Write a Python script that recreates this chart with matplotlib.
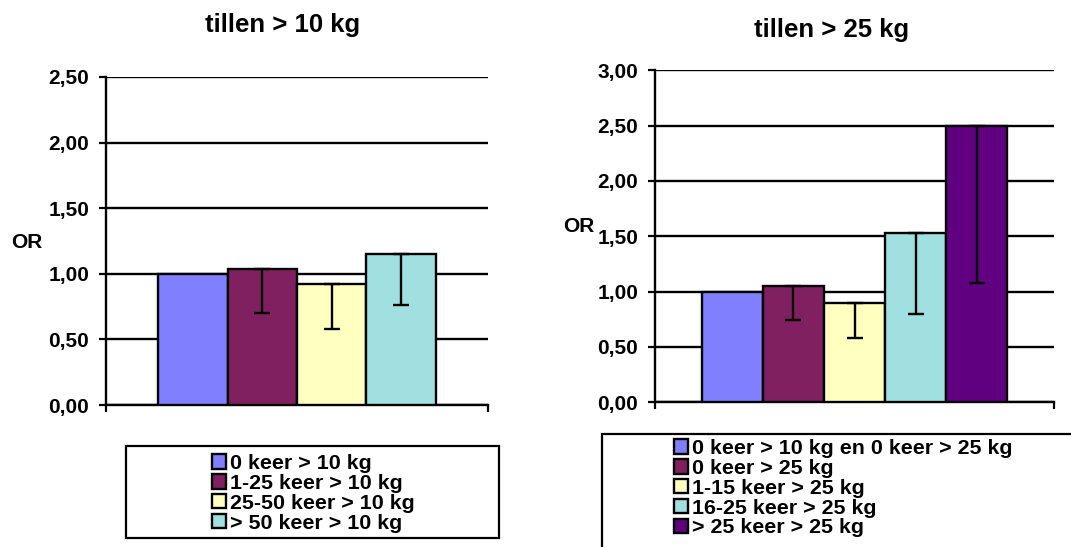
import matplotlib
matplotlib.use("Agg")
import matplotlib.pyplot as plt
from matplotlib.patches import Rectangle
from matplotlib.ticker import FuncFormatter, MultipleLocator

plt.rcParams['font.family'] = ['Liberation Sans', 'DejaVu Sans']
plt.rcParams['font.weight'] = 'bold'

W, H = 1071, 547

# tillen > 10 kg
labels_10 = ['0 keer > 10 kg', '1-25 keer > 10 kg', '25-50 keer > 10 kg', '> 50 keer > 10 kg']
or_10 = [1.00, 1.04, 0.92, 1.15]
low_10 = [None, 0.70, 0.58, 0.76]

# tillen > 25 kg
labels_25 = ['0 keer > 10 kg en 0 keer > 25 kg', '0 keer > 25 kg', '1-15 keer > 25 kg',
             '16-25 keer > 25 kg', '> 25 keer > 25 kg']
or_25 = [1.00, 1.05, 0.90, 1.53, 2.50]
low_25 = [None, 0.74, 0.58, 0.80, 1.08]

colors = ['#8080FF', '#802060', '#FFFFC0', '#A0E0E0', '#600080']


def px(x, y):
    return x / W, 1 - y / H


def comma(v, _):
    return f"{v:.2f}".replace('.', ',')


def draw_panel(fig, rect, values, lows, ymax, gap):
    ax = fig.add_axes(rect)
    n = len(values)
    xs = list(range(n))
    bars = ax.bar(xs, values, width=1.0, color=colors[:n], edgecolor='black',
                  linewidth=1.7, zorder=3)
    for x, v, lo in zip(xs, values, lows):
        if lo is None:
            continue
        ax.errorbar(x, v, yerr=[[v - lo], [0]], fmt='none', ecolor='black',
                    elinewidth=1.7, capsize=5.8, capthick=1.7, zorder=4)

    x0, x1 = -0.5 - gap, n - 0.5 + gap
    ax.set_xlim(x0, x1)
    ax.set_ylim(0, ymax)
    ax.yaxis.set_major_locator(MultipleLocator(0.5))
    ax.yaxis.set_major_formatter(FuncFormatter(comma))
    ax.set_xticks([x0, x1])
    ax.set_xticklabels([])
    ax.tick_params(axis='both', direction='out', length=5, width=1.6, color='black')
    ax.tick_params(axis='y', labelsize=15, pad=7)
    ax.yaxis.grid(True, color='black', linewidth=1.7)
    ax.set_axisbelow('line')
    for s in ['top', 'right']:
        ax.spines[s].set_visible(False)
    for s in ['left', 'bottom']:
        ax.spines[s].set_linewidth(1.7)
        ax.spines[s].set_color('black')
    ax.set_facecolor('none')
    return ax, bars


fig = plt.figure(figsize=(W / 100, H / 100), dpi=100)

# left panel
l, b = px(106, 405)
ax1, bars1 = draw_panel(fig, [l, b, 382 / W, 328 / H], or_10, low_10, 2.5, 0.75)
# right panel
l, b = px(655, 402.3)
ax2, bars2 = draw_panel(fig, [l, b, 399 / W, 332 / H], or_25, low_25, 3.0, 0.76)

# titles and axis labels
fig.text(*px(283, 25), 'tillen > 10 kg', ha='center', va='center', fontsize=18.5, fontweight='bold')
fig.text(*px(832, 30), 'tillen > 25 kg', ha='center', va='center', fontsize=18.5, fontweight='bold')
fig.text(*px(27, 243), 'OR', ha='center', va='center', fontsize=15, fontweight='bold')
fig.text(*px(579, 227), 'OR', ha='center', va='center', fontsize=15, fontweight='bold')

# legend boxes
x, y = px(126, 538)
fig.add_artist(Rectangle((x, y), 373 / W, 92 / H, transform=fig.transFigure,
                         fill=False, edgecolor='black', linewidth=1.6))
x, y = px(602, 570)
fig.add_artist(Rectangle((x, y), 500 / W, 136 / H, transform=fig.transFigure,
                         fill=False, edgecolor='black', linewidth=1.6))

leg_kw = dict(loc='upper left', bbox_transform=fig.transFigure, frameon=False,
              borderpad=0, borderaxespad=0, fontsize=15.4, handlelength=0.66,
              handleheight=0.66, handletextpad=0.2, labelspacing=0.04)
fig.legend(bars1.patches, labels_10, bbox_to_anchor=px(212, 454), **leg_kw)
fig.legend(bars2.patches, labels_25, bbox_to_anchor=px(674, 439), **leg_kw)

fig.savefig('out.png', dpi=100)
